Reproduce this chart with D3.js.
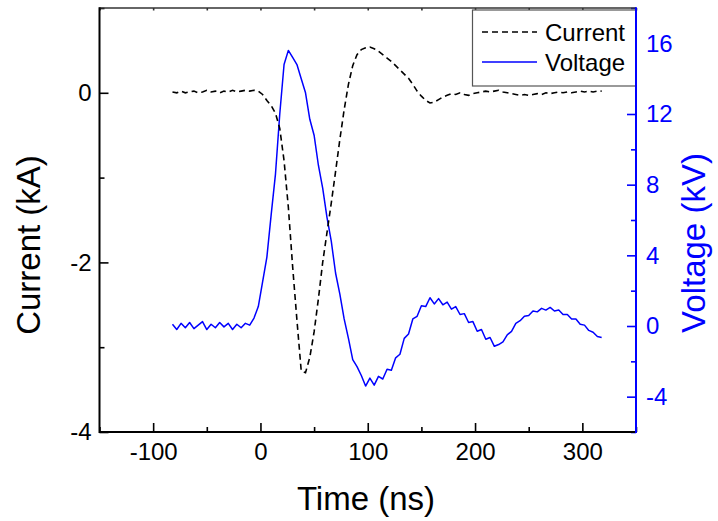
<!DOCTYPE html>
<html><head><meta charset="utf-8">
<script src="https://cdn.jsdelivr.net/npm/d3@7"></script>
<style>
body{margin:0;background:#fff}
svg{display:block}
text{font-family:"Liberation Sans",Arial,Helvetica,sans-serif}
</style>
</head><body>
<svg id="chart" width="718" height="521"></svg>
<script>
// time (ns)
const time = [-82,-78,-74,-70,-66,-62,-58,-54,-50,-46,-42,-38,-34,-30,-26,-22,-18,-14,-10,-6,-2,
  2,6,10,14,18,22,26,30,34,38,42,46,50,54,58,62,66,70,74,78,82,86,90,94,98,102,106,110,114,118,
  122,126,130,134,138,142,146,150,154,158,162,166,170,174,178,182,186,190,194,198,202,206,210,214,
  218,222,226,230,234,238,242,246,250,254,258,262,266,270,274,278,282,286,290,294,298,302,306,310,314,318];
// current (kA)
const current = [0.01,0.0,0.02,0.0,0.01,0.02,0.0,0.01,0.03,0.01,0.02,0.0,0.02,0.01,0.03,0.01,0.02,0.03,0.02,0.03,0.02,
  -0.02,-0.09,-0.15,-0.24,-0.42,-0.8,-1.35,-2.05,-2.68,-3.28,-3.3,-3.12,-2.82,-2.43,-2.0,-1.65,-1.3,-0.93,-0.55,-0.2,
  0.1,0.32,0.45,0.51,0.53,0.54,0.52,0.49,0.45,0.41,0.37,0.32,0.27,0.22,0.17,0.1,0.02,-0.04,-0.09,-0.12,-0.11,-0.08,
  -0.05,-0.03,-0.01,-0.02,0.0,-0.02,-0.03,-0.01,0.0,0.01,0.02,0.01,0.02,0.03,0.01,0.0,-0.01,-0.02,-0.03,-0.02,-0.03,
  -0.02,-0.01,-0.02,0.0,-0.01,0.0,0.01,0.0,0.01,0.0,0.01,0.02,0.01,0.02,0.01,0.02,0.02];
// voltage (kV)
const voltage = [0.1,-0.2,0.15,-0.1,0.2,-0.15,0.05,0.25,-0.2,0.1,-0.1,0.2,-0.05,0.15,-0.2,0.1,-0.1,0.15,0.05,0.45,1.1,
  2.5,3.9,6.3,8.6,12.0,14.8,15.6,15.2,14.8,14.0,13.2,11.7,10.8,9.1,7.8,6.15,4.8,3.0,1.8,0.4,
  -0.7,-1.9,-2.3,-2.8,-3.4,-2.95,-3.35,-2.85,-3.0,-2.45,-2.5,-1.8,-1.6,-0.7,-0.45,0.4,0.55,1.15,1.1,1.6,
  1.25,1.55,1.2,1.35,0.95,1.1,0.65,0.7,0.2,0.25,-0.3,-0.2,-0.75,-0.65,-1.15,-1.05,-0.9,-0.5,-0.3,0.15,
  0.3,0.55,0.6,0.85,0.8,1.0,0.9,1.05,0.85,0.9,0.65,0.65,0.4,0.4,0.1,0.05,-0.25,-0.35,-0.6,-0.65];

const xTicks = [-100,0,100,200,300];
const xMinor = [-150,-50,50,150,250,350];
const leftTicks = [0,-2,-4];
const leftMinor = [1,-1,-3];
const rightTicks = [16,12,8,4,0,-4];
const rightMinor = [18,14,10,6,2,-2,-6];
const xDomain = [-150,350], leftDomain = [-4,1], rightDomain = [-6,18];
const seriesNames = ["Current","Voltage"];
const titles = {x:"Time (ns)", left:"Current (kA)", right:"Voltage (kV)"};

const BLUE = "#0000ff";
const L = 99.5, R = 636, T = 8, B = 432;
const svg = d3.select("#chart");

const x = d3.scaleLinear(xDomain, [L, R]);
const yL = d3.scaleLinear(leftDomain, [B, T]);
const yR = d3.scaleLinear(rightDomain, [B, T]);
const fmt = d => String(d);

// data lines
const pts = time.map((t,i)=>({t, c: current[i], v: voltage[i]}));
svg.append("clipPath").attr("id","clp").append("rect")
  .attr("x",L).attr("y",T).attr("width",R-L).attr("height",B-T);

svg.append("path").datum(pts)
  .attr("clip-path","url(#clp)")
  .attr("fill","none").attr("stroke",BLUE).attr("stroke-width",1.5)
  .attr("stroke-linejoin","round")
  .attr("d", d3.line().x(d=>x(d.t)).y(d=>yR(d.v)));

svg.append("path").datum(pts)
  .attr("clip-path","url(#clp)")
  .attr("fill","none").attr("stroke","#000").attr("stroke-width",1.6)
  .attr("stroke-dasharray","6,4")
  .attr("d", d3.line().x(d=>x(d.t)).y(d=>yL(d.c)));

function styleAxis(g, color, size){
  g.selectAll(".domain").remove();
  g.selectAll("line").attr("stroke",color).attr("stroke-width",1.6);
  g.selectAll("text").attr("fill",color).attr("font-size",size);
}

// bottom axis
const gb = svg.append("g").attr("transform",`translate(0,${B})`)
  .call(d3.axisBottom(x).tickValues(xTicks).tickSize(-9).tickPadding(11).tickFormat(fmt));
styleAxis(gb,"#000","24px");
const gbm = svg.append("g").attr("transform",`translate(0,${B})`)
  .call(d3.axisBottom(x).tickValues(xMinor).tickSize(-5).tickFormat(""));
styleAxis(gbm,"#000","0px");

// top axis (tiny ticks)
const gt = svg.append("g").attr("transform",`translate(0,${T})`)
  .call(d3.axisTop(x).tickValues(xTicks.concat(xMinor)).tickSize(-2.5).tickFormat(""));
styleAxis(gt,"#333","0px");

// left axis
const gl = svg.append("g").attr("transform",`translate(${L},0)`)
  .call(d3.axisLeft(yL).tickValues(leftTicks).tickSize(-9).tickPadding(8).tickFormat(fmt));
styleAxis(gl,"#000","24px");
const glm = svg.append("g").attr("transform",`translate(${L},0)`)
  .call(d3.axisLeft(yL).tickValues(leftMinor).tickSize(-5).tickFormat(""));
styleAxis(glm,"#000","0px");

// right axis
const gr = svg.append("g").attr("transform",`translate(${R},0)`)
  .call(d3.axisRight(yR).tickValues(rightTicks).tickSize(-9).tickPadding(10).tickFormat(fmt));
styleAxis(gr,BLUE,"24px");
const grm = svg.append("g").attr("transform",`translate(${R},0)`)
  .call(d3.axisRight(yR).tickValues(rightMinor).tickSize(-5).tickFormat(""));
styleAxis(grm,BLUE,"0px");

// frame lines
svg.append("line").attr("x1",L).attr("x2",R).attr("y1",T).attr("y2",T).attr("stroke","#333").attr("stroke-width",1.6);
svg.append("line").attr("x1",L).attr("x2",R).attr("y1",B).attr("y2",B).attr("stroke","#000").attr("stroke-width",2);
svg.append("line").attr("x1",L).attr("x2",L).attr("y1",T-0.8).attr("y2",B+1).attr("stroke","#000").attr("stroke-width",2);

// titles
svg.append("text").attr("x",366).attr("y",510).attr("text-anchor","middle")
  .attr("font-size","33px").attr("fill","#000").text(titles.x);
svg.append("text").attr("transform","translate(40,245) rotate(-90)").attr("text-anchor","middle")
  .attr("font-size","33px").attr("fill","#000").text(titles.left);
svg.append("text").attr("transform","translate(705,243) rotate(-90)").attr("text-anchor","middle")
  .attr("font-size","33px").attr("fill",BLUE).text(titles.right);

// legend
const lg = svg.append("g");
lg.append("rect").attr("x",472.5).attr("y",10).attr("width",R-472.5).attr("height",76)
  .attr("fill","#fff").attr("stroke","#555").attr("stroke-width",1.2);
const legendRows = [
  {name: seriesNames[0], color:"#000", dash:"6,4", w:1.6},
  {name: seriesNames[1], color:BLUE, dash:null, w:1.4}
];
legendRows.forEach((r,i)=>{
  const cy = 32 + i*30;
  lg.append("line").attr("x1",482).attr("x2",537).attr("y1",cy).attr("y2",cy)
    .attr("stroke",r.color).attr("stroke-width",r.w).attr("stroke-dasharray",r.dash);
  lg.append("text").attr("x",545).attr("y",cy+8.5).attr("font-size","24px").attr("fill","#000").text(r.name);
});
// right axis line drawn last, above legend
svg.append("line").attr("x1",R).attr("x2",R).attr("y1",T-0.8).attr("y2",B+1).attr("stroke",BLUE).attr("stroke-width",2);
</script>
</body></html>
